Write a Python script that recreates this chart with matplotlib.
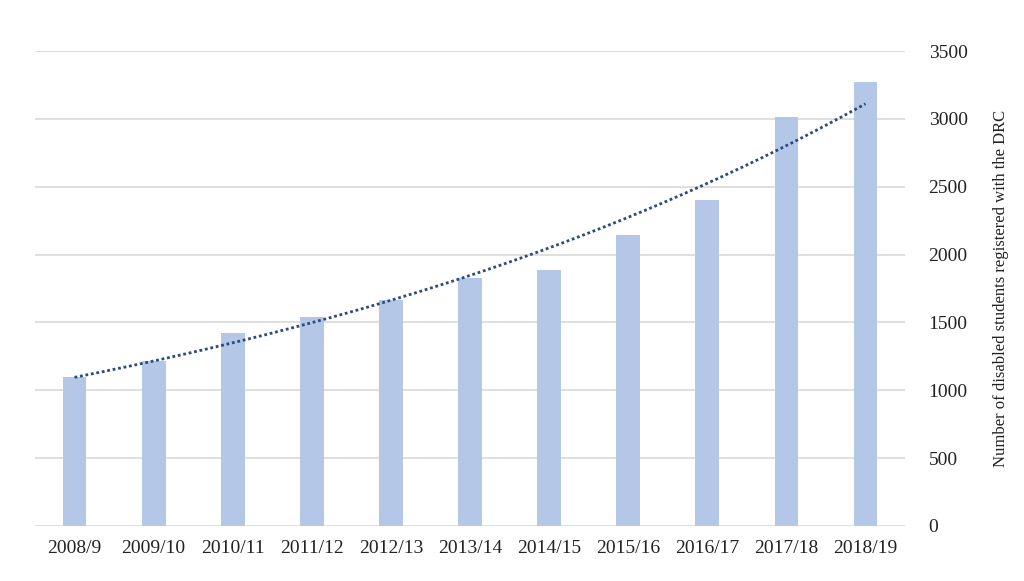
import numpy as np
import matplotlib
matplotlib.use("Agg")
from matplotlib import pyplot as plt

years = ["2008/9", "2009/10", "2010/11", "2011/12", "2012/13", "2013/14",
         "2014/15", "2015/16", "2016/17", "2017/18", "2018/19"]
students = [1095, 1215, 1420, 1540, 1665, 1825, 1885, 2145, 2405, 3015, 3275]
yticks = [0, 500, 1000, 1500, 2000, 2500, 3000, 3500]

plt.rcParams['font.family'] = ['Liberation Serif', 'DejaVu Serif']

fig = plt.figure(figsize=(10.24, 5.81), dpi=100)
ax = fig.add_axes([35 / 1024, 1 - 526 / 581, 870 / 1024, 475 / 581])

x = np.arange(len(years))
ax.bar(x, students, width=0.3, color='#b4c7e7', zorder=2)

# exponential trendline, like the spreadsheet one
b, a = np.polyfit(x, np.log(students), 1)
xs = np.linspace(x[0], x[-1], 200)
ax.plot(xs, np.exp(a + b * xs), color='#2b4a80', linestyle=(0, (1, 1)),
        linewidth=2.0, zorder=3)

ax.set_xlim(-0.5, len(years) - 0.5)
ax.set_ylim(0, 3500)
ax.set_yticks(yticks)
ax.yaxis.tick_right()
ax.yaxis.set_label_position('right')
ax.grid(axis='y', color='#d9d9d9', linewidth=1.2, zorder=0)
ax.set_axisbelow(True)
for s in ax.spines.values():
    s.set_visible(False)
ax.tick_params(axis='both', length=0, labelsize=14, colors='#222222')
ax.tick_params(axis='y', pad=17)
ax.tick_params(axis='x', pad=10)
ax.set_xticks(x)
ax.set_xticklabels(years)
ax.set_ylabel("Number of disabled students registered with the DRC",
              fontsize=12, labelpad=18, color='#222222')

fig.savefig("out.png", dpi=100)
